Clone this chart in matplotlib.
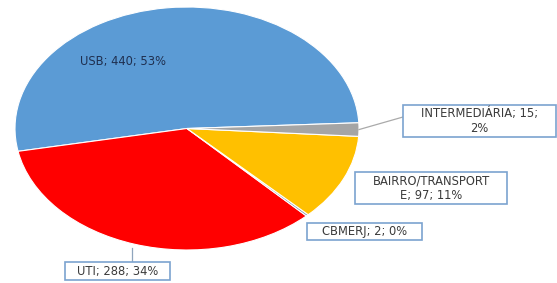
import numpy as np
import matplotlib.pyplot as plt
from matplotlib.patches import Rectangle

# data
labels = ['USB', 'UTI', 'CBMERJ', 'BAIRRO/TRANSPORTE', 'INTERMEDIÁRIA']
values = [440, 288, 2, 97, 15]
percents = ['53%', '34%', '0%', '11%', '2%']
colors = ['#5B9BD5', '#FF0000', '#7F93AD', '#FFC000', '#A5A5A5']

W, H = 557, 283
fig = plt.figure(figsize=(W / 100, H / 100), dpi=100)

# pie axes, stretched so the pie is drawn as an ellipse
ax = fig.add_axes([15 / W, (H - 250) / H, 344 / W, 243 / H])
wedges, _ = ax.pie(values, colors=colors, startangle=2.7, counterclock=True,
                   wedgeprops=dict(edgecolor='white', linewidth=0.8))
ax.set_aspect('auto')
ax.set_xlim(-1, 1)
ax.set_ylim(-1, 1)
ax.axis('off')

# overlay in pixel coords (origin top-left) for labels
ov = fig.add_axes([0, 0, 1, 1], facecolor='none')
ov.set_xlim(0, W)
ov.set_ylim(H, 0)
ov.axis('off')


def edge_point(w, r=1.0):
    ang = np.deg2rad((w.theta1 + w.theta2) / 2)
    disp = ax.transData.transform((r * np.cos(ang), r * np.sin(ang)))
    return ov.transData.inverted().transform(disp)


fs = 8.3
txt = dict(fontsize=fs, family='DejaVu Sans', color='#3A3A3A',
           ha='center', va='center', linespacing=1.15)


def label_box(x0, y0, x1, y1, s):
    ov.add_patch(Rectangle((x0, y0), x1 - x0, y1 - y0, fc='white',
                           ec='#7BA3CF', lw=1.2, zorder=3))
    ov.text((x0 + x1) / 2, (y0 + y1) / 2, s, zorder=4, **txt)


texts = [f'{l}; {v}; {p}' for l, v, p in zip(labels, values, percents)]

# USB inside the slice
ov.text(123, 61, texts[0], fontsize=fs, family='DejaVu Sans',
        color='#1F2F4F', ha='center', va='center')

# UTI with leader line
ov.plot([132, 132], [248, 262], color='#8FA5BD', lw=0.9)
label_box(65, 262, 170, 280, texts[1])

# CBMERJ
label_box(307, 223, 422, 240, texts[2])

# BAIRRO/TRANSPORTE (wrapped like the original)
label_box(355, 172, 507, 204, 'BAIRRO/TRANSPORT\nE; 97; 11%')

# INTERMEDIARIA with leader line
p = edge_point(wedges[4])
ov.plot([p[0], 403], [p[1], 117], color='#AAAAAA', lw=0.9)
label_box(403, 105, 556, 137, 'INTERMEDIÁRIA; 15;\n2%')

fig.savefig('out.png', dpi=100)
